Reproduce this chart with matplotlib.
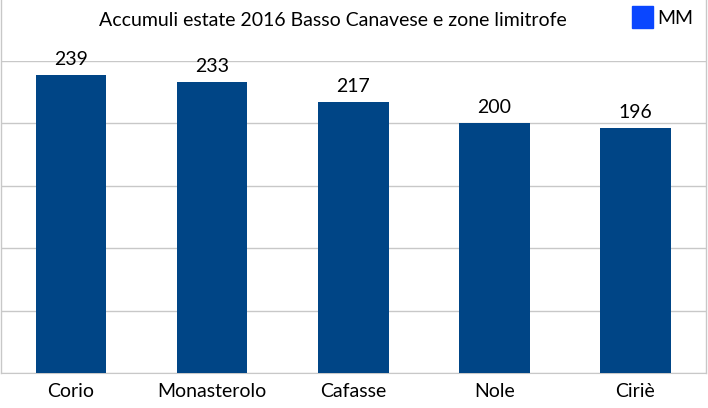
import matplotlib
matplotlib.use("Agg")
import matplotlib.pyplot as plt
from matplotlib.lines import Line2D
from matplotlib.patches import Rectangle

plt.rcParams['font.family'] = ['Lato', 'DejaVu Sans']

categories = ["Corio", "Monasterolo", "Cafasse", "Nole", "Ciriè"]
values = [239, 233, 217, 200, 196]
title = "Accumuli estate 2016 Basso Canavese e zone limitrofe"
legend_label = "MM"

W, H = 708, 408
fig = plt.figure(figsize=(W/100, H/100), dpi=100)
ax = fig.add_axes([0.5/W, 1 - 373/H, 705.5/W, (373 - 61)/H])

x = list(range(len(categories)))
ax.bar(x, values, width=0.5, color="#004586", zorder=3)
ax.set_xlim(-0.5, len(categories) - 0.5)
ax.set_ylim(0, 250)
ax.set_yticks([0, 50, 100, 150, 200, 250])
ax.yaxis.grid(True, color="#c8c8c8", linewidth=1, zorder=0)
ax.tick_params(axis='y', left=False, labelleft=False)
ax.tick_params(axis='x', length=0, labelsize=14, pad=7.5)
ax.set_xticks(x)
ax.set_xticklabels(categories)
for s in ["top", "right", "left"]:
    ax.spines[s].set_visible(False)
ax.spines["bottom"].set_color("#c8c8c8")

for xi, v in zip(x, values):
    ax.annotate(str(v), (xi, v), xytext=(0, 5), textcoords="offset points",
                ha="center", va="bottom", fontsize=14, color="black")

# border lines of the chart area
fig.add_artist(Line2D([0.7/W, 0.7/W], [1 - 373/H, 1], color="#c8c8c8", lw=1))
fig.add_artist(Line2D([705.5/W, 705.5/W], [1 - 373/H, 1], color="#c8c8c8", lw=1))

fig.text(333/W, 1 - 20/H, title, ha="center", va="center", fontsize=14)

# legend
fig.add_artist(Rectangle((632/W, 1 - 28/H), 21/W, 22/H, color="#0a46ff"))
fig.text(657/W, 1 - 18/H, legend_label, ha="left", va="center", fontsize=14)

fig.savefig("out.png", dpi=100)
